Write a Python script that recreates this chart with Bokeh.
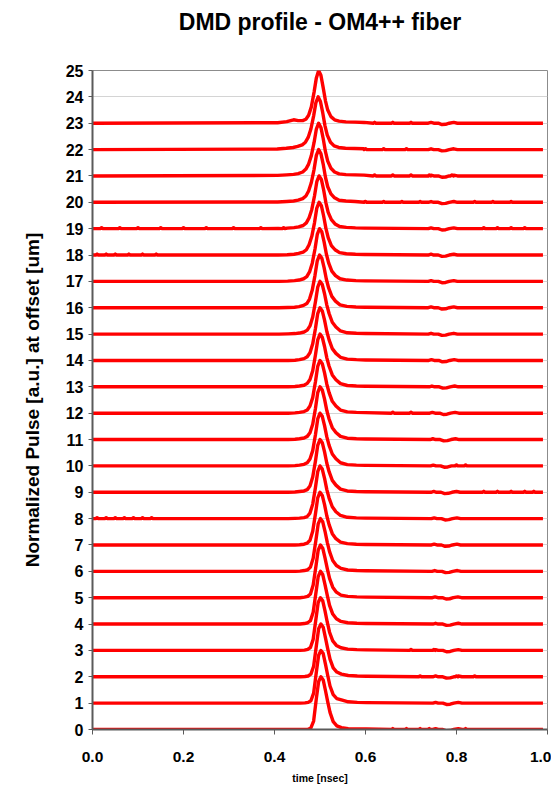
from bokeh.plotting import figure
from bokeh.models import Range1d, FixedTicker, NumeralTickFormatter, ColumnDataSource
from bokeh.embed import file_html
from bokeh.resources import INLINE

# ---- data ----
offsets = list(range(24))                       # radial offset [um], also the baseline level
peak_time = [0.502, 0.502, 0.502, 0.501, 0.501, 0.501, 0.501, 0.500, 0.500, 0.500,
             0.500, 0.500, 0.500, 0.500, 0.500, 0.500, 0.499, 0.499, 0.498, 0.498,
             0.497, 0.497, 0.496, 0.497]
# sample times relative to each pulse peak [nsec]
pulse_dt = [-0.090, -0.070, -0.055, -0.045, -0.035, -0.028, -0.022, -0.016, -0.010, -0.005,
            0.000, 0.005, 0.010, 0.015, 0.020, 0.027, 0.035, 0.045, 0.060, 0.080, 0.100]
# normalized pulse amplitude at those times, one list per offset
pulse_amp = [
    [0, 0, 0, 0, 0.00, 0.01, 0.06, 0.32, 1.18, 1.82, 2.0, 1.88, 1.48, 1.05, 0.65, 0.30, 0.14, 0.07, 0.03, 0.02, 0.02],
    [0, 0, 0, 0, 0.01, 0.03, 0.09, 0.38, 1.18, 1.82, 2.0, 1.88, 1.48, 1.05, 0.65, 0.32, 0.17, 0.12, 0.05, 0.03, 0.02],
    [0, 0, 0, 0, 0.01, 0.03, 0.10, 0.40, 1.18, 1.82, 2.0, 1.88, 1.48, 1.06, 0.67, 0.34, 0.18, 0.10, 0.05, 0.03, 0.02],
    [0, 0, 0, 0, 0.01, 0.04, 0.11, 0.42, 1.18, 1.82, 2.0, 1.88, 1.50, 1.07, 0.69, 0.36, 0.19, 0.10, 0.05, 0.03, 0.02],
    [0, 0, 0, 0, 0.02, 0.05, 0.13, 0.45, 1.18, 1.80, 2.0, 1.88, 1.50, 1.09, 0.71, 0.38, 0.20, 0.10, 0.05, 0.03, 0.02],
    [0, 0, 0, 0, 0.02, 0.05, 0.14, 0.48, 1.18, 1.80, 2.0, 1.88, 1.51, 1.10, 0.73, 0.40, 0.21, 0.10, 0.05, 0.03, 0.02],
    [0, 0, 0, 0.01, 0.03, 0.06, 0.16, 0.50, 1.18, 1.80, 2.0, 1.88, 1.52, 1.10, 0.75, 0.41, 0.22, 0.11, 0.05, 0.03, 0.02],
    [0, 0, 0, 0.01, 0.03, 0.07, 0.18, 0.52, 1.18, 1.79, 2.0, 1.88, 1.53, 1.10, 0.77, 0.43, 0.24, 0.11, 0.05, 0.03, 0.02],
    [0, 0, 0.01, 0.02, 0.04, 0.08, 0.21, 0.55, 1.18, 1.78, 2.0, 1.88, 1.53, 1.10, 0.78, 0.45, 0.26, 0.12, 0.05, 0.03, 0.02],
    [0, 0, 0.01, 0.03, 0.05, 0.10, 0.24, 0.58, 1.18, 1.78, 2.0, 1.88, 1.53, 1.10, 0.78, 0.45, 0.27, 0.12, 0.05, 0.03, 0.02],
    [0, 0, 0.01, 0.03, 0.06, 0.12, 0.26, 0.58, 1.18, 1.78, 2.0, 1.88, 1.53, 1.10, 0.78, 0.45, 0.27, 0.12, 0.05, 0.03, 0.02],
    [0, 0, 0.01, 0.03, 0.06, 0.12, 0.26, 0.58, 1.18, 1.78, 2.0, 1.88, 1.53, 1.10, 0.78, 0.45, 0.27, 0.12, 0.05, 0.03, 0.02],
    [0, 0, 0.01, 0.03, 0.06, 0.12, 0.27, 0.59, 1.19, 1.78, 2.0, 1.88, 1.53, 1.10, 0.78, 0.45, 0.27, 0.12, 0.05, 0.03, 0.02],
    [0, 0, 0.01, 0.03, 0.06, 0.13, 0.28, 0.61, 1.21, 1.78, 2.0, 1.88, 1.53, 1.10, 0.78, 0.45, 0.27, 0.12, 0.05, 0.03, 0.02],
    [0, 0, 0.01, 0.03, 0.07, 0.14, 0.29, 0.63, 1.21, 1.78, 2.0, 1.88, 1.53, 1.10, 0.78, 0.45, 0.27, 0.12, 0.05, 0.03, 0.02],
    [0, 0.01, 0.02, 0.04, 0.08, 0.15, 0.31, 0.65, 1.23, 1.78, 2.0, 1.88, 1.53, 1.10, 0.78, 0.45, 0.27, 0.12, 0.05, 0.03, 0.02],
    [0, 0.01, 0.02, 0.04, 0.09, 0.16, 0.33, 0.67, 1.23, 1.78, 2.0, 1.88, 1.52, 1.08, 0.75, 0.43, 0.25, 0.11, 0.05, 0.03, 0.02],
    [0, 0.01, 0.03, 0.05, 0.10, 0.18, 0.36, 0.69, 1.23, 1.78, 2.0, 1.88, 1.50, 1.04, 0.70, 0.39, 0.22, 0.10, 0.05, 0.03, 0.02],
    [0, 0.01, 0.03, 0.06, 0.11, 0.20, 0.39, 0.71, 1.23, 1.78, 2.0, 1.87, 1.48, 1.01, 0.66, 0.36, 0.20, 0.09, 0.05, 0.03, 0.02],
    [0.01, 0.02, 0.04, 0.07, 0.12, 0.22, 0.41, 0.73, 1.25, 1.78, 2.0, 1.87, 1.47, 0.98, 0.62, 0.34, 0.18, 0.08, 0.05, 0.03, 0.02],
    [0.01, 0.03, 0.05, 0.08, 0.14, 0.24, 0.43, 0.75, 1.25, 1.78, 2.0, 1.85, 1.45, 0.95, 0.59, 0.32, 0.17, 0.08, 0.05, 0.03, 0.02],
    [0.02, 0.04, 0.06, 0.09, 0.15, 0.26, 0.45, 0.77, 1.27, 1.78, 2.0, 1.84, 1.42, 0.92, 0.56, 0.29, 0.15, 0.08, 0.05, 0.04, 0.03],
    [0.02, 0.05, 0.08, 0.12, 0.18, 0.28, 0.46, 0.78, 1.28, 1.78, 2.0, 1.82, 1.40, 0.90, 0.55, 0.28, 0.14, 0.08, 0.05, 0.04, 0.03],
    [0.02, 0.06, 0.13, 0.10, 0.10, 0.15, 0.30, 0.62, 1.18, 1.72, 2.0, 1.82, 1.35, 0.85, 0.50, 0.25, 0.13, 0.08, 0.05, 0.04, 0.03],
]
# small ripple near 0.77 ns seen on every trace (time of the dip per offset)
dip_time = [0.778, 0.778, 0.778, 0.778, 0.778, 0.777, 0.776, 0.775, 0.775, 0.774,
            0.773, 0.772, 0.771, 0.770, 0.769, 0.768, 0.768, 0.768, 0.768, 0.768,
            0.768, 0.768, 0.768, 0.768]
ripple_dt = [-0.030, -0.024, -0.018, -0.008, 0.000, 0.008, 0.016, 0.026, 0.034]
ripple_amp = [0.0, 0.03, 0.0, 0.0, -0.05, -0.04, 0.0, 0.03, 0.0]
# isolated noise specks (time of each small spike) seen on some traces
speck_times = {
    0: [0.66, 0.69, 0.72, 0.74, 0.82],
    2: [0.72, 0.80, 0.84],
    3: [0.70, 0.75],
    8: [0.01, 0.03, 0.05, 0.07, 0.09, 0.11, 0.13],
    9: [0.86, 0.89, 0.92, 0.95, 0.97],
    10: [0.80, 0.82],
    12: [0.66, 0.70],
    18: [0.01, 0.03, 0.05, 0.08, 0.11, 0.14],
    19: [0.02, 0.06, 0.10, 0.15, 0.20, 0.25, 0.31, 0.37, 0.42, 0.86, 0.89, 0.92, 0.95],
    20: [0.60, 0.64, 0.68, 0.72, 0.84, 0.88, 0.92],
    21: [0.62, 0.66, 0.70, 0.74, 0.79],
    22: [0.60, 0.64, 0.69],
    23: [0.62, 0.66, 0.70],
}
speck_amp = 0.035
t_start, t_end = 0.0, 0.99

x_ticks = [0.0, 0.2, 0.4, 0.6, 0.8, 1.0]
y_ticks = list(range(26))

FONT = "Liberation Sans"

p = figure(width=551, height=786, output_backend="svg", toolbar_location=None,
           x_range=Range1d(0, 1), y_range=Range1d(0, 25),
           min_border_left=92, min_border_right=4, min_border_top=70, min_border_bottom=57,
           title="DMD profile - OM4++ fiber\n")

p.title.text_font = FONT
p.title.text_font_size = "23px"
p.title.text_font_style = "bold"
p.title.align = "center"
p.title.standoff = 0
p.title.text_line_height = 1.38
p.title.text_color = "#000000"

p.outline_line_color = "#8c8c8c"
p.outline_line_width = 1
p.background_fill_color = "white"
p.border_fill_color = "white"

p.xgrid.visible = False
p.ygrid.ticker = FixedTicker(ticks=y_ticks)
p.ygrid.grid_line_color = "#d4d4d4"
p.ygrid.grid_line_width = 1

p.xaxis.ticker = FixedTicker(ticks=x_ticks)
p.xaxis.formatter = NumeralTickFormatter(format="0.0")
p.yaxis.ticker = FixedTicker(ticks=y_ticks)

for ax in (p.xaxis[0], p.yaxis[0]):
    ax.axis_line_color = "#5a5a5a"
    ax.axis_line_width = 2
    ax.major_tick_line_color = "#5a5a5a"
    ax.major_tick_line_width = 1
    ax.minor_tick_line_color = None
    ax.major_tick_in = 0
    ax.major_label_text_font = FONT
    ax.major_label_text_font_style = "bold"
    ax.major_label_text_color = "#000000"
    ax.axis_label_text_font = FONT
    ax.axis_label_text_font_style = "bold"
    ax.axis_label_text_color = "#000000"

p.xaxis.major_tick_out = 5
p.xaxis.major_label_text_font_size = "15.5px"
p.xaxis.major_label_standoff = 17
p.xaxis.axis_label = "time [nsec]"
p.xaxis.axis_label_text_font_size = "10.5px"
p.xaxis.axis_label_standoff = 7

p.yaxis.major_tick_out = 4
p.yaxis.major_label_text_font_size = "16px"
p.yaxis.major_label_standoff = 5
p.yaxis.axis_label = "Normalized Pulse [a.u.] at offset [um]"
p.yaxis.axis_label_text_font_size = "19px"
p.yaxis.axis_label_standoff = 20

for k, off in enumerate(offsets):
    tc = peak_time[k]
    pts = [(t_start, 0.0), (t_end, 0.0)]
    for dt, a in zip(pulse_dt, pulse_amp[k]):
        pts.append((tc + dt, a))
    for dt, a in zip(ripple_dt, ripple_amp):
        pts.append((dip_time[k] + dt, a))
    for ts_ in speck_times.get(k, []):
        pts += [(ts_ - 0.003, 0.0), (ts_, speck_amp), (ts_ + 0.003, 0.0)]
    pts.sort()
    src = ColumnDataSource(data=dict(t=[q[0] for q in pts], y=[off + q[1] for q in pts]))
    p.line("t", "y", source=src, line_color="#ff0000", line_width=3.4, line_join="round")

open("out.html", "w").write(file_html(p, INLINE))
